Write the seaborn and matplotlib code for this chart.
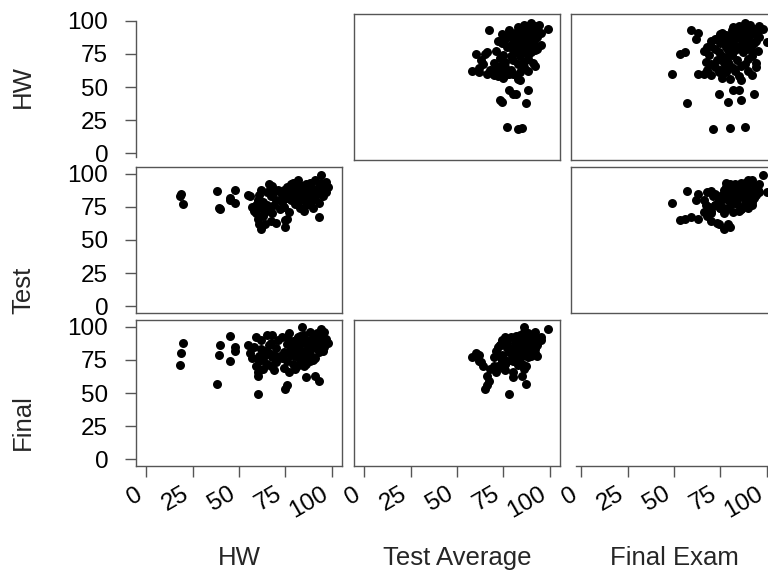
import pandas as pd
import matplotlib
matplotlib.use("Agg")
import matplotlib.pyplot as plt
import seaborn as sns

# student scores, one entry per student
hw = [18, 19, 20, 38, 39, 40, 45, 45, 48, 48, 55, 56, 57, 60, 62, 75, 75, 76,
      93, 94, 84, 86, 91, 98,
      58, 59, 59, 60, 60, 61, 61, 62, 62, 63, 63, 64, 64, 65, 65, 66, 66, 67,
      67, 68, 68, 69, 69, 70, 70, 71, 72,
      73, 73, 74, 74, 76, 76, 77, 77, 78, 78, 79, 79, 80, 80, 81, 81, 82, 82,
      83, 83, 84, 84, 85, 85, 86, 86, 87, 87, 88, 88, 89, 89, 90, 90, 91, 91,
      92, 92, 93, 93, 94, 94, 95, 95, 96, 96, 97, 97, 90, 85, 88, 80, 82, 79, 76]
test = [83, 85, 77, 87, 74, 73, 82, 80, 88, 78, 84, 83, 75, 78, 58, 60, 65, 66,
        67, 99, 86, 80, 85, 90,
        72, 70, 76, 80, 66, 84, 62, 74, 88, 68, 79, 71, 62, 86, 76, 73, 92, 64,
        83, 70, 91, 86, 76, 63, 80, 88, 73,
        84, 79, 88, 75, 90, 82, 86, 71, 92, 80, 85, 89, 77, 93, 83, 87, 90, 79,
        85, 74, 91, 81, 88, 84, 92, 76, 89, 83, 86, 93, 80, 90, 87, 84, 95, 81,
        88, 85, 91, 78, 86, 93, 83, 89, 92, 87, 94, 86, 74, 72, 77, 86, 95, 93, 86]
final = [71, 80, 88, 57, 79, 86, 93, 74, 85, 82, 86, 80, 76, 49, 77, 80, 53, 56,
         59, 98, 100, 62, 63, 88,
         85, 70, 92, 66, 63, 78, 74, 90, 83, 68, 75, 82, 79, 94, 72, 86, 80, 70,
         88, 77, 94, 79, 67, 73, 84, 90, 78,
         76, 92, 81, 69, 87, 74, 95, 66, 83, 79, 72, 89, 84, 78, 91, 70, 86, 80,
         93, 75, 82, 88, 77, 94, 90, 72, 85, 80, 96, 88, 83, 78, 92, 86, 90, 76,
         95, 84, 87, 81, 93, 89, 90, 82, 96, 85, 91, 88, 75, 70, 74, 68, 92, 86, 92]

variables = ["HW", "Test", "Final"]
row_labels = ["HW", "Test", "Final"]
col_labels = ["HW", "Test Average", "Final Exam"]
ticks = [0, 25, 50, 75, 100]

W, H = 768, 572
lefts = [136, 354, 571]
tops = [14, 167, 320]
panel_w, panel_h = 206, 146
line_col = "#555555"


def make_plot(df):
    sns.set_style("white")
    plt.rcParams["font.family"] = ["Liberation Sans", "DejaVu Sans"]
    fig = plt.figure(figsize=(W / 100, H / 100), dpi=100)

    for i in range(3):
        for j in range(3):
            ax = fig.add_axes([lefts[j] / W, 1 - (tops[i] + panel_h) / H,
                               panel_w / W, panel_h / H])
            if i != j:
                sns.scatterplot(data=df, x=variables[j], y=variables[i], ax=ax,
                                color="black", s=42, linewidth=0)
            ax.set_xlim(-5.5, 105.5)
            ax.set_ylim(-5, 105)
            ax.set_xlabel("")
            ax.set_ylabel("")

            for side, sp in ax.spines.items():
                sp.set_color(line_col)
                sp.set_linewidth(1)
                sp.set_visible(i != j)
            if i == j == 0:
                ax.spines["left"].set_visible(True)
                ax.spines["left"].set_bounds(-2.5, 100)
            if i == j == 2:
                ax.spines["bottom"].set_visible(True)
                ax.spines["bottom"].set_bounds(-3, 100)

            ax.tick_params(direction="out", length=8, width=1, color=line_col,
                           labelsize=17.5, labelcolor="black")
            if j == 0:
                ax.set_yticks(ticks)
                ax.set_yticklabels([str(t) for t in ticks])
                ax.tick_params(axis="y", left=True, pad=12)
            else:
                ax.set_yticks([])
            if i == 2:
                ax.set_xticks(ticks)
                # right end of each rotated label sits under its tick
                ax.set_xticklabels([str(t) for t in ticks], rotation=30,
                                   ha="right", va="bottom",
                                   rotation_mode="anchor")
                ax.tick_params(axis="x", bottom=True, pad=18)
            else:
                ax.set_xticks([])

    # row labels on the left
    for lab, yc in zip(row_labels, [87, 290, 422]):
        fig.text(23 / W, 1 - yc / H, lab, rotation=90, ha="center",
                 va="center", fontsize=18.5)
    # column labels underneath
    for j, lab in enumerate(col_labels):
        fig.text((lefts[j] + panel_w / 2) / W, 1 - 565 / H, lab,
                 ha="center", va="baseline", fontsize=18.5)

    plt.savefig("out.png", dpi=100)


def main():
    df = pd.DataFrame({"HW": hw, "Test": test, "Final": final})
    make_plot(df)


if __name__ == "__main__":
    main()
